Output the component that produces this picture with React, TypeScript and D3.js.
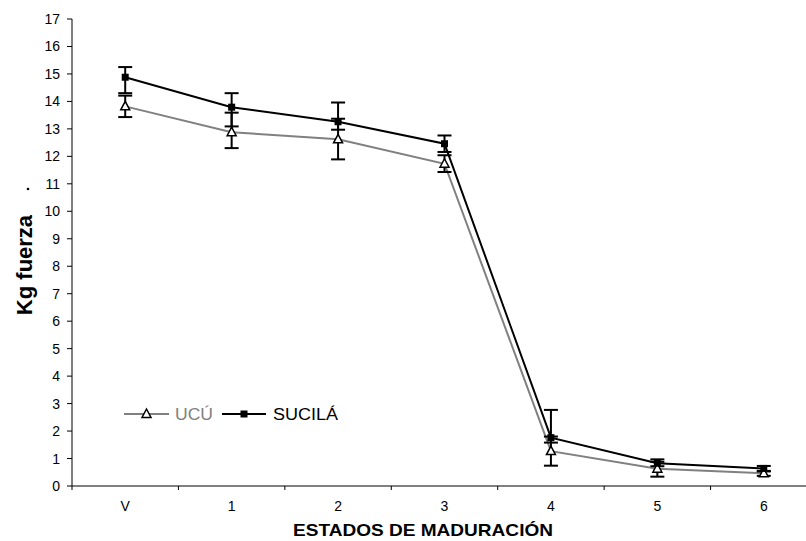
import React from "react";
import * as d3 from "d3";

const categories = ["V", "1", "2", "3", "4", "5", "6"];
const ucu = [13.82, 12.88, 12.62, 11.73, 1.27, 0.63, 0.46];
const ucuLow = [13.43, 12.3, 11.89, 11.43, 0.74, 0.34, 0.37];
const ucuHigh = [14.21, 13.59, 13.37, 12.04, 1.8, 0.88, 0.55];
const sucila = [14.88, 13.79, 13.26, 12.46, 1.76, 0.83, 0.64];
const sucilaLow = [14.3, 13.09, 12.97, 12.16, 1.58, 0.72, 0.53];
const sucilaHigh = [15.25, 14.3, 13.96, 12.76, 2.77, 0.97, 0.73];
const yTicks = d3.range(0, 18);

const W = 806;
const H = 541;
const FONT = "'Liberation Sans', Arial, sans-serif";

export default function App() {
  const x = d3.scaleBand<string>().domain(categories).range([72, 817]);
  const y = d3.scaleLinear().domain([0, 17]).range([486, 19]);
  const cx = (c: string) => (x(c) as number) + x.bandwidth() / 2;
  const line = d3
    .line<number>()
    .x((_, i) => cx(categories[i]))
    .y((d) => y(d));

  const boundaries = d3.range(0, categories.length + 1).map((i) => 72 + i * x.bandwidth());

  const errBars = (vals: number[], lo: number[], hi: number[], key: string) =>
    vals.map((_, i) => {
      const X = cx(categories[i]);
      return (
        <g key={key + i} stroke="#000" strokeWidth={2}>
          <line x1={X} x2={X} y1={y(hi[i])} y2={y(lo[i])} />
          <line x1={X - 7} x2={X + 7} y1={y(hi[i])} y2={y(hi[i])} />
          <line x1={X - 7} x2={X + 7} y1={y(lo[i])} y2={y(lo[i])} />
        </g>
      );
    });

  const tri = (X: number, Y: number, k: string) => (
    <path
      key={k}
      d={`M${X},${Y - 5}L${X + 4.5},${Y + 3.5}L${X - 4.5},${Y + 3.5}Z`}
      fill="#fff"
      stroke="#000"
      strokeWidth={1.5}
    />
  );
  const sq = (X: number, Y: number, k: string) => (
    <rect key={k} x={X - 3.5} y={Y - 3.5} width={7} height={7} fill="#000" />
  );

  return (
    <svg
      width={W}
      height={H}
      style={{ position: "absolute", left: 0, top: 0, background: "#fff" }}
      fontFamily={FONT}
    >
      <rect width={W} height={H} fill="#fff" />
      {/* axes */}
      <line x1={72} x2={72} y1={19} y2={486} stroke="#000" strokeWidth={1} />
      <line x1={72} x2={W} y1={486} y2={486} stroke="#000" strokeWidth={1} />
      {yTicks.map((t) => (
        <g key={"yt" + t}>
          <line x1={67} x2={72} y1={y(t)} y2={y(t)} stroke="#000" />
          <text x={60} y={y(t) + 5} textAnchor="end" fontSize={14} fill="#000">
            {t}
          </text>
        </g>
      ))}
      {boundaries.map((b, i) => (
        <line key={"xt" + i} x1={b} x2={b} y1={486} y2={490} stroke="#000" />
      ))}
      {categories.map((c) => (
        <text key={"xl" + c} x={cx(c)} y={511} textAnchor="middle" fontSize={14} fill="#000">
          {c}
        </text>
      ))}
      <text
        x={423}
        y={536}
        textAnchor="middle"
        fontSize={17}
        fontWeight="bold"
        fill="#000"
        textLength={260}
        lengthAdjust="spacingAndGlyphs"
      >
        ESTADOS DE MADURACIÓN
      </text>
      <text
        transform="translate(32,265) rotate(-90)"
        textAnchor="middle"
        fontSize={22}
        fontWeight="bold"
        fill="#000"
      >
        Kg fuerza
      </text>
      <circle cx={28} cy={189} r={1.3} fill="#000" />

      {/* lines */}
      <path d={line(ucu) as string} fill="none" stroke="#808080" strokeWidth={2} />
      <path d={line(sucila) as string} fill="none" stroke="#000" strokeWidth={2} />
      {errBars(ucu, ucuLow, ucuHigh, "eu")}
      {errBars(sucila, sucilaLow, sucilaHigh, "es")}
      {ucu.map((v, i) => tri(cx(categories[i]), y(v), "tu" + i))}
      {sucila.map((v, i) => sq(cx(categories[i]), y(v), "ss" + i))}

      {/* legend */}
      <line x1={124} x2={169} y1={414} y2={414} stroke="#808080" strokeWidth={2} />
      {tri(146.5, 414, "lt")}
      <text x={175} y={419.5} fontSize={16} fill="#808080" textLength={38} lengthAdjust="spacingAndGlyphs">
        UCÚ
      </text>
      <line x1={222} x2={266} y1={414} y2={414} stroke="#000" strokeWidth={2} />
      {sq(244, 414, "ls")}
      <text x={273} y={419.5} fontSize={16} fill="#000" textLength={65} lengthAdjust="spacingAndGlyphs">
        SUCILÁ
      </text>
    </svg>
  );
}
